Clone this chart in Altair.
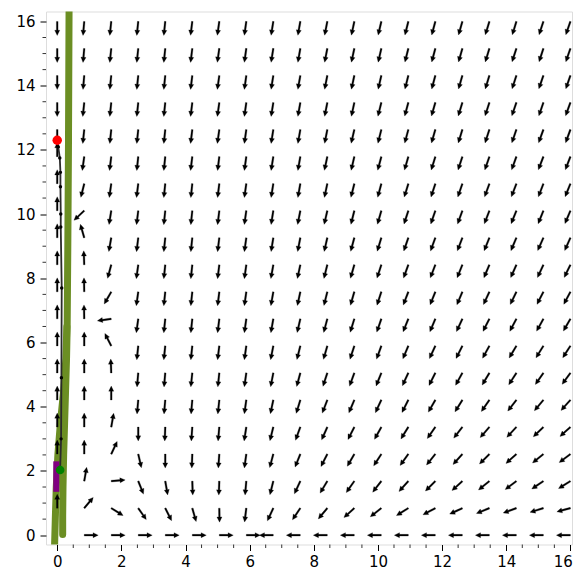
import altair as alt
import pandas as pd

# grid positions of the vector-field arrows (20 x 20)
grid = [0.0, 0.842, 1.684, 2.526, 3.368, 4.211, 5.053, 5.895, 6.737, 7.579,
        8.421, 9.263, 10.105, 10.947, 11.789, 12.632, 13.474, 14.316, 15.158, 16.0]

# arrow directions in degrees (counter-clockwise from +x), rows from y=0 upward
angle_rows = [
    [None, 0, 0, 0, 0, 0, 0, 0, 180, 180, 180, 180, 180, 180, 180, 180, 180, 180, 180, 180],
    [90, 50, 328, 305, 297, 286, 271, 263, 245, 236, 230, 222, 218, 212, 208, 205, 202, 200, 197, 195],
    [90, 80, 5, 292, 280, 272, 268, 265, 256, 245, 239, 235, 232, 228, 225, 222, 219, 217, 214, 212],
    [90, 90, 65, 283, 270, 268, 266, 262, 255, 248, 243, 240, 237, 234, 231, 228, 225, 222, 219, 217],
    [90, 90, 80, 270, 268, 266, 265, 261, 256, 250, 246, 243, 241, 238, 235, 232, 229, 227, 224, 222],
    [90, 90, 90, 265, 265, 265, 264, 262, 258, 253, 249, 247, 245, 243, 240, 238, 235, 232, 230, 228],
    [90, 90, 92, 265, 265, 264, 264, 262, 259, 255, 252, 250, 248, 245, 243, 241, 239, 237, 235, 234],
    [90, 90, 117, 264, 264, 264, 263, 262, 259, 256, 254, 252, 250, 247, 245, 243, 241, 239, 238, 237],
    [90, 91, 188, 262, 264, 264, 263, 262, 260, 257, 255, 253, 251, 248, 247, 245, 243, 242, 241, 240],
    [90, 91, 240, 262, 264, 264, 263, 262, 260, 258, 256, 254, 252, 249, 248, 247, 245, 244, 243, 242],
    [90, 92, 255, 262, 264, 264, 263, 262, 260, 258, 256, 254, 252, 250, 249, 248, 247, 246, 245, 244],
    [90, 106, 260, 263, 264, 264, 263, 262, 261, 259, 257, 255, 253, 251, 250, 249, 248, 247, 246, 246],
    [90, 223, 261, 263, 264, 264, 263, 262, 261, 259, 257, 256, 254, 252, 251, 250, 249, 248, 248, 247],
    [90, 256, 262, 263, 264, 264, 263, 262, 261, 260, 258, 256, 255, 253, 252, 251, 250, 249, 249, 248],
    [90, 262, 263, 264, 264, 263, 263, 262, 261, 260, 258, 257, 255, 254, 253, 252, 251, 250, 249, 249],
    [270, 264, 264, 264, 264, 263, 262, 262, 261, 260, 259, 257, 256, 255, 254, 253, 252, 251, 250, 250],
    [270, 264, 264, 264, 264, 263, 262, 262, 261, 260, 259, 258, 256, 255, 254, 253, 252, 251, 251, 250],
    [270, 265, 264, 264, 264, 263, 262, 262, 261, 260, 259, 258, 257, 256, 255, 254, 253, 252, 251, 251],
    [270, 265, 264, 264, 264, 263, 262, 262, 261, 260, 259, 258, 257, 256, 255, 254, 253, 252, 252, 251],
    [270, 265, 264, 264, 264, 263, 262, 262, 261, 260, 259, 258, 257, 256, 255, 254, 253, 253, 252, 251],
]

# olive solution curve (two strands)
olive_a_x = [-0.09, -0.06, -0.03, 0.02, 0.10, 0.20, 0.27, 0.30]
olive_a_y = [-0.6, 0.5, 1.5, 2.5, 3.5, 4.5, 5.5, 6.5]
olive_b_x = [0.17, 0.17, 0.18, 0.20, 0.23, 0.26, 0.29, 0.31, 0.33, 0.35, 0.37]
olive_b_y = [0.02, 0.6, 1.5, 2.5, 3.5, 4.5, 5.5, 6.5, 9.0, 12.0, 16.6]

# black trajectory from the red point down to the green point
traj_x = [0.0, 0.03, 0.08, 0.10, 0.10, 0.11, 0.11, 0.14, 0.13, 0.12, 0.09]
traj_y = [12.3, 12.1, 11.75, 11.3, 10.85, 10.0, 9.6, 7.7, 4.9, 3.0, 2.03]

purple_x = [-0.03, -0.03]
purple_y = [1.35, 2.3]

red_pt = (0.0, 12.3)
green_pt = (0.09, 2.03)

major_ticks = [0, 2, 4, 6, 8, 10, 12, 14, 16]
minor_ticks = [0.5, 1, 1.5, 2.5, 3, 3.5, 4.5, 5, 5.5, 6.5, 7, 7.5, 8.5, 9, 9.5,
               10.5, 11, 11.5, 12.5, 13, 13.5, 14.5, 15, 15.5]

# ---------------------------------------------------------------
W, H = 526, 533
xs = alt.Scale(domain=[-0.35, 16.05], nice=False, zero=False)
ys = alt.Scale(domain=[-0.29, 16.31], nice=False, zero=False)

axis_common = dict(values=major_ticks, tickSize=6, tickWidth=1, tickColor="black",
                   domain=False, grid=False, labelFont="DejaVu Sans", labelFontSize=15,
                   labelColor="black", title=None)
xaxis = alt.Axis(labelPadding=4, labelFlush=5, labelFlushOffset=2, **axis_common)
yaxis = alt.Axis(labelPadding=5, labelFlush=False, **axis_common)


def X(f):
    return alt.X(f, scale=xs, axis=xaxis)


def Y(f):
    return alt.Y(f, scale=ys, axis=yaxis)


rows = []
for j, yv in enumerate(grid):
    for i, xv in enumerate(grid):
        a = angle_rows[j][i]
        if a is None:
            continue
        rows.append({"x": xv, "y": yv, "rot": (90 - a) % 360})
field = pd.DataFrame(rows)

arrow_path = "M -0.06 0 L -0.06 -0.63 L -0.18 -0.63 L 0 -1 L 0.18 -0.63 L 0.06 -0.63 L 0.06 0 Z"

arrows = alt.Chart(field).mark_point(
    shape=arrow_path, filled=True, color="black", opacity=1, size=784,
    stroke="black", strokeWidth=0.25
).encode(x=X("x:Q"), y=Y("y:Q"), angle=alt.Angle("rot:Q", scale=None))

olive_df = pd.DataFrame(
    [{"x": a, "y": b, "seg": "a", "o": k} for k, (a, b) in enumerate(zip(olive_a_x, olive_a_y))]
    + [{"x": a, "y": b, "seg": "b", "o": k} for k, (a, b) in enumerate(zip(olive_b_x, olive_b_y))]
)
olive = alt.Chart(olive_df).mark_line(
    color="#6b8e23", strokeWidth=7, strokeCap="round", strokeJoin="round", clip=True
).encode(x=X("x:Q"), y=Y("y:Q"), detail="seg:N", order="o:Q")

purple = alt.Chart(pd.DataFrame({"x": purple_x, "y": purple_y, "o": [0, 1]})).mark_line(
    color="#800080", strokeWidth=6, strokeCap="butt"
).encode(x=X("x:Q"), y=Y("y:Q"), order="o:Q")

traj_df = pd.DataFrame({"x": traj_x, "y": traj_y, "o": list(range(len(traj_x)))})
traj = alt.Chart(traj_df).mark_line(color="#2a2a2a", strokeWidth=1.8).encode(
    x=X("x:Q"), y=Y("y:Q"), order="o:Q")
traj_dots = alt.Chart(traj_df).mark_point(filled=True, color="black", opacity=1, size=12).encode(
    x=X("x:Q"), y=Y("y:Q"))

pts = pd.DataFrame({"x": [red_pt[0], green_pt[0]], "y": [red_pt[1], green_pt[1]],
                    "c": ["red", "green"], "s": [90, 75]})
points = alt.Chart(pts).mark_point(filled=True, opacity=1).encode(
    x=X("x:Q"), y=Y("y:Q"), color=alt.Color("c:N", scale=None), size=alt.Size("s:Q", scale=None))

minor_df = pd.DataFrame({"v": minor_ticks})
minor_x = alt.Chart(minor_df).mark_rule(color="black", strokeWidth=0.8).encode(
    x=X("v:Q"), y=alt.value(H), y2=alt.value(H + 3.5))
minor_y = alt.Chart(minor_df).mark_rule(color="black", strokeWidth=0.8).encode(
    y=Y("v:Q"), x=alt.value(0), x2=alt.value(-3.5))

chart = alt.layer(olive, arrows, purple, traj, traj_dots, points, minor_x, minor_y).properties(
    width=W, height=H,
    autosize=alt.AutoSizeParams(type="none"),
    padding={"left": 38, "top": 3.5, "right": 1, "bottom": 25.5},
).configure_view(stroke="black", strokeWidth=1.1).configure(background="white")

chart.save("out.html", embed_options={"renderer": "svg", "actions": False})
